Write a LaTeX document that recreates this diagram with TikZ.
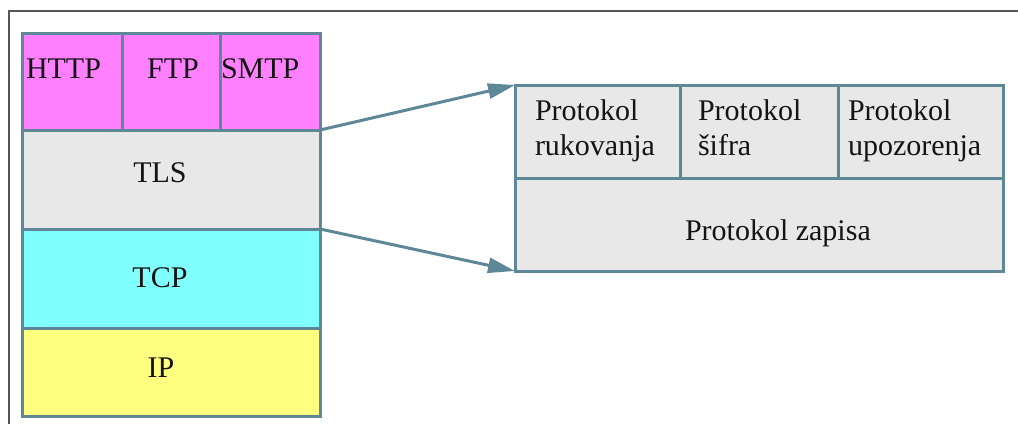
\documentclass[tikz,border=0pt]{standalone}
\usepackage{fontspec}
\setmainfont{Liberation Serif}
\usetikzlibrary{arrows.meta}
\definecolor{edge}{RGB}{94,136,152}
\definecolor{framegray}{RGB}{85,85,85}
\definecolor{appfill}{RGB}{255,128,255}
\definecolor{secfill}{RGB}{232,232,232}
\definecolor{transfill}{RGB}{128,255,255}
\definecolor{netfill}{RGB}{255,255,128}
\definecolor{ink}{RGB}{20,20,20}

\begin{document}
\begin{tikzpicture}[x=1pt,y=-1pt,
  cell/.style={draw=edge,line width=3pt,inner sep=0pt,outer sep=0pt,
               anchor=north west,rectangle},
  lbl/.style={font=\fontsize{30}{35}\selectfont,text=ink,inner sep=0pt,outer sep=0pt},
  link/.style={draw=edge,line width=3pt,-{Triangle[length=27pt,width=15pt]}}]

\useasboundingbox (0,0) rectangle (1018,424);
\fill[white] (0,0) rectangle (1018,424);

% outer frame
\draw[framegray,line width=2pt] (9,424) -- (9,11) -- (1018,11);

% protocol stack
\node[cell,fill=appfill,minimum width=100pt,minimum height=97pt] (http) at (22,33) {};
\node[cell,fill=appfill,minimum width=98pt,minimum height=97pt] (ftp) at (122,33) {};
\node[cell,fill=appfill,minimum width=100pt,minimum height=97pt] (smtp) at (220,33) {};
\node[cell,fill=secfill,minimum width=298pt,minimum height=99pt] (tls) at (22,130) {};
\node[cell,fill=transfill,minimum width=298pt,minimum height=99pt] (tcp) at (22,229) {};
\node[cell,fill=netfill,minimum width=298pt,minimum height=88pt] (ip) at (22,328) {};

\node[lbl,anchor=base west] (thttp) at (26,78) {HTTP};
\node[lbl,anchor=base] (tftp) at (173,78) {FTP};
\node[lbl,anchor=base west] (tsmtp) at (221,78) {SMTP};
\node[lbl,anchor=base] (ttls) at (160,182) {TLS};
\node[lbl,anchor=base] (ttcp) at (160,287) {TCP};
\node[lbl,anchor=base] (tip) at (161,377) {IP};

% TLS sub-protocols
\node[cell,fill=secfill,minimum width=165pt,minimum height=93pt] (hs) at (515,85) {};
\node[cell,fill=secfill,minimum width=158pt,minimum height=93pt] (ciph) at (680,85) {};
\node[cell,fill=secfill,minimum width=165pt,minimum height=93pt] (alert) at (838,85) {};
\node[cell,fill=secfill,minimum width=488pt,minimum height=93pt] (rec) at (515,178) {};

\node[lbl,anchor=north west,align=left] (ths) at (535,100) {Protokol\\rukovanja};
\node[lbl,anchor=north west,align=left] (tciph) at (698,100) {Protokol\\šifra};
\node[lbl,anchor=north west,align=left] (talert) at (848,100) {Protokol\\upozorenja};
\node[lbl,anchor=base west] (trec) at (685,240) {Protokol zapisa};

% expansion arrows
\draw[link] (tls.north east) -- (hs.north west);
\draw[link] (tls.south east) -- (rec.south west);
\end{tikzpicture}
\end{document}
